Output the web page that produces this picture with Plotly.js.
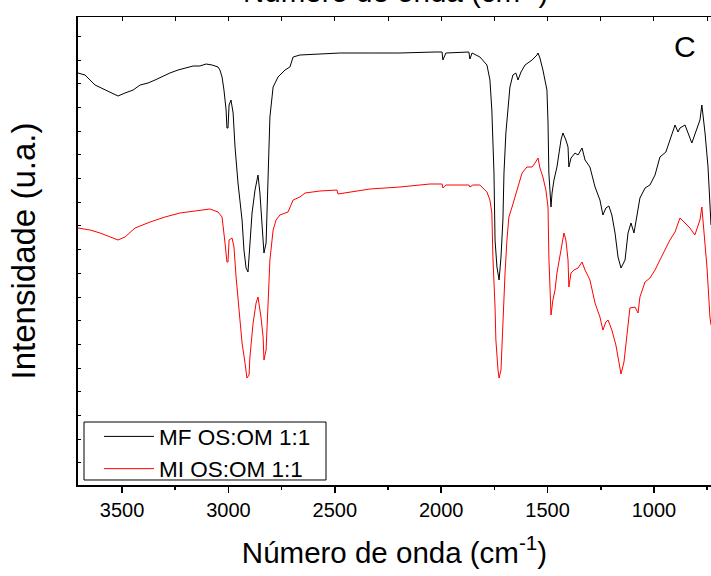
<!DOCTYPE html>
<html>
<head>
<meta charset="utf-8">
<script src="https://cdn.plot.ly/plotly-3.0.1.min.js"></script>
<style>html,body{margin:0;padding:0;background:#fff;}#chart{width:711px;height:576px;}</style>
</head>
<body>
<div id="chart"></div>
<script>
// Wavenumbers (cm-1) and intensities (a.u.)
const mfWavenumber = [3707,3674,3627,3580,3547,3519,3486,3448,3415,3378,3345,3307,3275,3237,3204,3166,3134,3105,3077,3049,3040,3030,3021,3011,3007,3002,2997,2988,2978,2969,2955,2936,2927,2917,2908,2903,2889,2875,2866,2861,2852,2842,2833,2823,2814,2805,2790,2767,2734,2711,2696,2664,2570,2476,2335,2194,2029,1996,1992,1978,1870,1865,1855,1818,1785,1771,1762,1752,1747,1738,1728,1719,1710,1705,1696,1686,1677,1663,1649,1639,1625,1606,1573,1550,1545,1536,1522,1503,1498,1494,1484,1479,1470,1456,1447,1437,1428,1414,1404,1400,1390,1371,1357,1338,1324,1301,1277,1254,1240,1226,1212,1198,1183,1169,1155,1136,1122,1108,1094,1080,1066,1042,1019,995,972,944,925,901,887,878,854,822,784,775,760,746,732];
const mfIntensity = [412,410,400,395,392,389,392,395,400,402,405,409,412,415,417,419,419,421,420,418,415,408,395,375,357,357,380,385,372,338,302,265,235,217,213,230,272,295,307,310,292,265,232,242,302,368,398,408,415,418,428,430,431,432,432,432,433,433,425,432,433,426,432,428,420,405,375,312,245,218,205,228,265,312,352,378,398,410,412,405,413,420,425,430,432,427,415,395,362,312,278,292,305,318,332,345,352,345,338,318,327,332,330,337,325,318,298,285,270,277,279,270,252,228,217,225,252,262,252,272,287,297,300,310,328,333,345,360,353,357,360,342,365,380,352,318,260];

const miWavenumber = [3707,3650,3603,3556,3519,3486,3439,3368,3298,3228,3134,3087,3049,3030,3016,3007,3002,2997,2983,2974,2964,2950,2936,2922,2913,2903,2899,2884,2870,2861,2847,2837,2833,2823,2814,2805,2790,2776,2758,2720,2696,2664,2640,2570,2490,2485,2335,2194,2053,1996,1992,1978,1870,1865,1851,1818,1785,1771,1762,1757,1747,1743,1733,1728,1719,1714,1705,1700,1691,1682,1667,1653,1639,1620,1597,1573,1559,1545,1536,1522,1508,1498,1494,1489,1484,1475,1465,1456,1442,1432,1423,1414,1404,1400,1390,1376,1357,1338,1324,1301,1277,1254,1240,1226,1216,1198,1179,1165,1155,1141,1132,1122,1113,1089,1075,1066,1042,1019,995,972,949,925,901,878,854,831,808,784,775,765,751,737,732];
const miIntensity = [257,255,252,248,245,248,257,263,268,272,275,276,273,268,242,223,223,245,247,238,208,175,142,122,107,110,128,162,182,188,168,148,125,135,182,225,255,265,270,273,285,288,292,294,295,291,296,298,301,301,297,300,300,298,300,300,293,285,272,228,178,145,115,107,115,142,178,212,245,268,278,288,298,312,318,318,322,327,317,308,295,278,228,192,170,185,195,212,228,238,252,245,225,198,212,215,217,223,215,205,182,168,155,163,165,155,140,123,111,123,140,155,177,178,172,188,203,207,215,225,235,245,253,267,262,257,250,265,278,252,218,168,160];

const xTicks = [3500,3000,2500,2000,1500,1000];
const seriesNames = ['MF OS:OM 1:1','MI OS:OM 1:1'];

const FONT = 'Liberation Sans, Arial, sans-serif';
const xRange = [3707, 732];

const traces = [
  {x: mfWavenumber, y: mfIntensity, type: 'scatter', mode: 'lines', name: seriesNames[0],
   line: {color: '#000000', width: 1}},
  {x: miWavenumber, y: miIntensity, type: 'scatter', mode: 'lines', name: seriesNames[1],
   line: {color: '#ff0000', width: 1}}
];

const layout = {
  width: 711, height: 576,
  margin: {l: 78, r: 0, t: 17, b: 91},
  paper_bgcolor: '#ffffff', plot_bgcolor: '#ffffff',
  font: {family: FONT, color: '#000'},
  showlegend: true,
  legend: {x: 0.0332, y: 0.149, xanchor: 'left', yanchor: 'top',
    bgcolor: 'rgba(0,0,0,0)', borderwidth: 0, itemwidth: 50,
    font: {family: FONT, size: 22.5, color: '#000'}, tracegroupgap: 0},
  shapes: [
    {type: 'rect', xref: 'paper', yref: 'paper', x0: 0.0095, x1: 0.3918, y0: 0.0107, y1: 0.1346,
     line: {color: '#000', width: 1}, fillcolor: '#ffffff', layer: 'below'}
  ],
  xaxis: {
    range: xRange, autorange: false,
    tickvals: xTicks, ticktext: xTicks.map(String),
    ticks: 'outside', ticklen: 6, tickwidth: 1.5, tickcolor: '#000',
    minor: {ticks: 'outside', ticklen: 3, tickwidth: 1.5, tickcolor: '#000', tickvals: [3250,2750,2250,1750,1250,750], showgrid: false},
    showline: true, linecolor: '#000', linewidth: 2,
    showgrid: false, zeroline: false,
    tickfont: {family: FONT, size: 20, color: '#000'},
    title: {text: 'Número de onda (cm<sup>-1</sup>)', font: {family: FONT, size: 29.5, color: '#000'}, standoff: 22}
  },
  xaxis2: {
    overlaying: 'x', side: 'top', anchor: 'y', matches: 'x',
    range: xRange, autorange: false,
    tickvals: [3500,3250,3000,2750,2500,2250,2000,1750,1500,1250,1000,750],
    ticks: 'inside', ticklen: 4, tickwidth: 1, tickcolor: '#000',
    showticklabels: false, showline: true, linecolor: '#000', linewidth: 1.5,
    showgrid: false, zeroline: false
  },
  yaxis: {
    range: [0, 468], autorange: false,
    tick0: 22.1, dtick: 23.7,
    ticks: 'inside', ticklen: 3, tickwidth: 1, tickcolor: '#000',
    showticklabels: false, showline: true, linecolor: '#000', linewidth: 2,
    showgrid: false, zeroline: false,
    title: {text: 'Intensidade (u.a.)', font: {family: FONT, size: 33, color: '#000'}, standoff: 30}
  },
  annotations: [
    {text: 'C', xref: 'paper', yref: 'paper', x: 0.959, y: 0.938, xanchor: 'center', yanchor: 'middle',
     showarrow: false, font: {family: FONT, size: 30, color: '#000'}},
    {text: 'Número de onda (cm<sup>-1</sup>)', xref: 'paper', yref: 'paper', x: 0.502, y: 1.015,
     xanchor: 'center', yanchor: 'bottom', showarrow: false, font: {family: FONT, size: 29.5, color: '#000'}}
  ]
};

// invisible trace so the top mirror axis is drawn
traces.push({x: [xRange[0]], y: [0], xaxis: 'x2', yaxis: 'y', type: 'scatter', mode: 'lines',
  showlegend: false, hoverinfo: 'skip', line: {color: 'rgba(0,0,0,0)'}});

Plotly.newPlot('chart', traces, layout, {displayModeBar: false, staticPlot: true});
</script>
</body>
</html>
